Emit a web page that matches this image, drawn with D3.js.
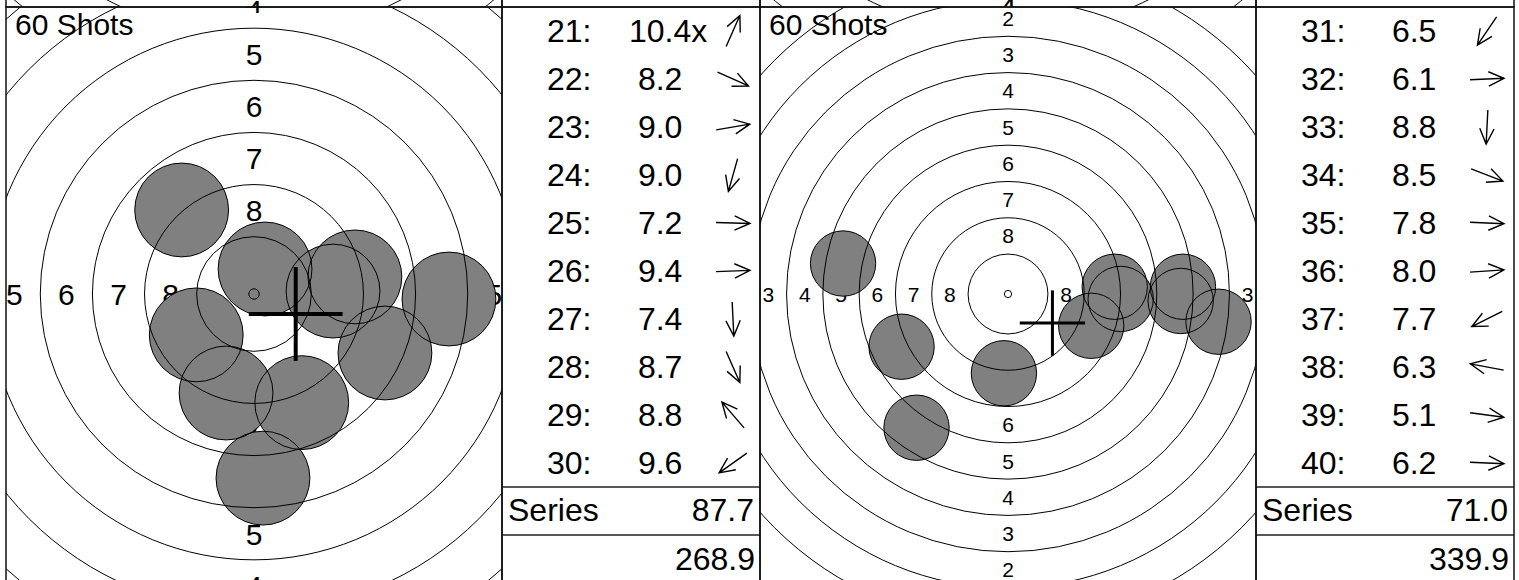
<!DOCTYPE html>
<html><head><meta charset="utf-8">
<script src="https://cdn.jsdelivr.net/npm/d3@7"></script>
<style>html,body{margin:0;padding:0;background:#fff;overflow:hidden}text{font-family:"Liberation Sans",Arial,sans-serif;fill:#000}</style>
</head><body><svg id="c" width="1519" height="580"></svg>
<script>
// ---------- data ----------
const titleText = "60 Shots";
const seriesLabel = "Series";
const ringValues = [1,2,3,4,5,6,7,8,9,10];
const labelValues = [1,2,3,4,5,6,7,8];

const shotNumbersA = [21,22,23,24,25,26,27,28,29,30];
const scoresA      = [10.4,8.2,9.0,9.0,7.2,9.4,7.4,8.7,8.8,9.6];
const innerTenA    = [true,false,false,false,false,false,false,false,false,false];
const shotXA = [0.53, 6.28, 4.84,-1.34, 9.35, 3.79, 0.43, 2.29,-3.47,-2.77]; // mm, right +
const shotYA = [1.20,-2.83, 0.82,-4.75,-0.24, 0.14,-8.83,-5.21, 4.03,-1.96]; // mm, up +
const crossA = [2.0,-0.96];
const seriesA = 87.7, totalA = 268.9;

const shotNumbersB = [31,32,33,34,35,36,37,38,39,40];
const scoresB      = [6.5,6.1,8.8,8.5,7.8,8.0,7.7,6.3,5.1,6.2];
const innerTenB    = [false,false,false,false,false,false,false,false,false,false];
const shotXB = [-6.30,12.05,-0.28, 5.73, 7.76, 7.35,-7.33,-11.36,14.50,11.89];
const shotYB = [-9.21, 0.50,-5.46,-2.19,-0.34, 0.50,-3.63,  2.10,-1.91,-0.48];
const crossB = [3.06,-2.0];
const seriesB = 71.0, totalB = 339.9;

// ---------- layout ----------
const svg = d3.select("#c");
const panelW = 754, targetW = 496, tableW = 258, panelH = 576, top0 = 7;
const pelletR = 2.25, ringStep = 2.5, r10 = 0.25;
const ringR = v => r10 + (10 - v) * ringStep;

let clipN = 0;
function drawTarget(x0, y0, k, fontSize, shotsX, shotsY, cross, showTitle) {
  const id = "clip" + (clipN++);
  svg.append("clipPath").attr("id", id).append("rect")
    .attr("x", x0).attr("y", y0).attr("width", targetW).attr("height", panelH);
  const g = svg.append("g").attr("clip-path", `url(#${id})`);
  const cx = x0 + targetW / 2, cy = y0 + 287;
  const x = d3.scaleLinear().domain([0, 1]).range([cx, cx + k]);
  const y = d3.scaleLinear().domain([0, 1]).range([cy, cy - k]);
  const r = d3.scaleLinear().domain([0, 1]).range([0, k]);

  // ring labels on the four axes
  const pos = [];
  labelValues.forEach(v => {
    const m = ringR(v) - ringStep / 2;
    [[0, m], [0, -m], [m, 0], [-m, 0]].forEach(p => pos.push({v, px: p[0], py: p[1]}));
  });
  g.selectAll("text.lab").data(pos).join("text").attr("class", "lab")
    .attr("x", d => x(d.px)).attr("y", d => y(d.py)).attr("dy", "0.36em")
    .attr("text-anchor", "middle").style("font-size", fontSize + "px").text(d => d.v);

  const shots = shotsX.map((sx, i) => ({sx, sy: shotsY[i]}));
  g.selectAll("circle.fill").data(shots).join("circle").attr("class", "fill")
    .attr("cx", d => x(d.sx)).attr("cy", d => y(d.sy)).attr("r", r(pelletR))
    .attr("fill", "#808080").attr("stroke", "none");
  g.selectAll("circle.ring").data(ringValues).join("circle").attr("class", "ring")
    .attr("cx", cx).attr("cy", cy).attr("r", v => r(ringR(v)))
    .attr("fill", "none").attr("stroke", "#000").attr("stroke-width", 1);
  g.selectAll("circle.out").data(shots).join("circle").attr("class", "out")
    .attr("cx", d => x(d.sx)).attr("cy", d => y(d.sy)).attr("r", r(pelletR))
    .attr("fill", "none").attr("stroke", "#000").attr("stroke-width", 1);
  if (cross) {
    const cw = k > 18 ? 4 : 3;
    g.append("line").attr("x1", x(cross[0] - pelletR)).attr("x2", x(cross[0] + pelletR))
      .attr("y1", y(cross[1])).attr("y2", y(cross[1])).attr("stroke", "#000").attr("stroke-width", cw);
    g.append("line").attr("x1", x(cross[0])).attr("x2", x(cross[0]))
      .attr("y1", y(cross[1] - pelletR)).attr("y2", y(cross[1] + pelletR)).attr("stroke", "#000").attr("stroke-width", cw);
  }
  if (showTitle) {
    g.append("text").attr("x", x0 + 9).attr("y", y0 + 28).style("font-size", "30px").text(titleText);
  }
  svg.append("rect").attr("x", x0).attr("y", y0).attr("width", targetW).attr("height", panelH)
    .attr("fill", "none").attr("stroke", "#111").attr("stroke-width", 1.5);
}

function drawTable(x0, y0, nums, scores, inner, sx, sy, series, total) {
  const tx = x0 + targetW;
  const g = svg.append("g");
  const rowH = 48;
  const fmt = d3.format(">4.1f"), fmt1 = d3.format(".1f");
  const rows = nums.map((n, i) => ({n, s: scores[i], inner: inner[i], a: Math.atan2(sy[i], sx[i]), i}));
  const rowY = d3.scaleLinear().domain([0, 1]).range([y0 + rowH / 2, y0 + rowH * 1.5]);
  g.selectAll("text.num").data(rows).join("text").attr("class", "num")
    .attr("x", tx + 45).attr("y", d => rowY(d.i)).attr("dy", "0.33em")
    .style("font-size", "32px").text(d => d.n + ":");
  g.selectAll("text.val").data(rows).join("text").attr("class", "val")
    .attr("x", tx + 127).attr("y", d => rowY(d.i)).attr("dy", "0.33em")
    .style("font-size", "32px").style("white-space", "pre")
    .text(d => fmt(d.s) + (d.inner ? "x" : ""));
  const L = 34, hb = 17, ha = 25 * Math.PI / 180;
  g.selectAll("path.arr").data(rows).join("path").attr("class", "arr")
    .attr("d", d => {
      const ax = tx + 231, ay = rowY(d.i);
      const ux = Math.cos(d.a), uy = -Math.sin(d.a);
      const tipX = ax + ux * L / 2, tipY = ay + uy * L / 2;
      const tailX = ax - ux * L / 2, tailY = ay - uy * L / 2;
      const b1 = d.a + Math.PI - ha, b2 = d.a + Math.PI + ha;
      return `M${tailX},${tailY}L${tipX},${tipY}` +
        `M${tipX + Math.cos(b1) * hb},${tipY - Math.sin(b1) * hb}L${tipX},${tipY}` +
        `L${tipX + Math.cos(b2) * hb},${tipY - Math.sin(b2) * hb}`;
    })
    .attr("fill", "none").attr("stroke", "#000").attr("stroke-width", 1.4);
  const ySer = rowY(10), yTot = rowY(11);
  g.append("text").attr("x", tx + 6).attr("y", ySer).attr("dy", "0.3em").style("font-size", "32px").text(seriesLabel);
  g.append("text").attr("x", tx + tableW - 6).attr("y", ySer).attr("dy", "0.3em").attr("text-anchor", "end")
    .style("font-size", "32px").text(fmt1(series));
  g.append("text").attr("x", tx + tableW - 5).attr("y", yTot).attr("dy", "0.33em").attr("text-anchor", "end")
    .style("font-size", "32px").text(fmt1(total));
  [y0 + rowH * 10, y0 + rowH * 11].forEach(yy =>
    g.append("line").attr("x1", tx).attr("x2", tx + tableW).attr("y1", yy).attr("y2", yy)
      .attr("stroke", "#222").attr("stroke-width", 1.5));
  svg.append("rect").attr("x", tx).attr("y", y0).attr("width", tableW).attr("height", panelH)
    .attr("fill", "none").attr("stroke", "#111").attr("stroke-width", 1.5);
}

// panels of the row above (only their bottom edge shows)
drawTarget(6, top0 - panelH, 20.85, 30, [], [], null, false);
drawTarget(6 + panelW, top0 - panelH, 20.65, 30, [], [], null, false);
svg.append("rect").attr("x", 6 + targetW).attr("y", top0 - panelH).attr("width", tableW).attr("height", panelH).attr("fill", "none").attr("stroke", "#111").attr("stroke-width", 1.5);
svg.append("rect").attr("x", 6 + panelW + targetW).attr("y", top0 - panelH).attr("width", tableW).attr("height", panelH).attr("fill", "none").attr("stroke", "#111").attr("stroke-width", 1.5);

// current row
drawTarget(6, top0, 20.85, 30, shotXA, shotYA, crossA, true);
drawTable(6, top0, shotNumbersA, scoresA, innerTenA, shotXA, shotYA, seriesA, totalA);
drawTarget(6 + panelW, top0, 14.52, 21, shotXB, shotYB, crossB, true);
drawTable(6 + panelW, top0, shotNumbersB, scoresB, innerTenB, shotXB, shotYB, seriesB, totalB);
</script></body></html>
